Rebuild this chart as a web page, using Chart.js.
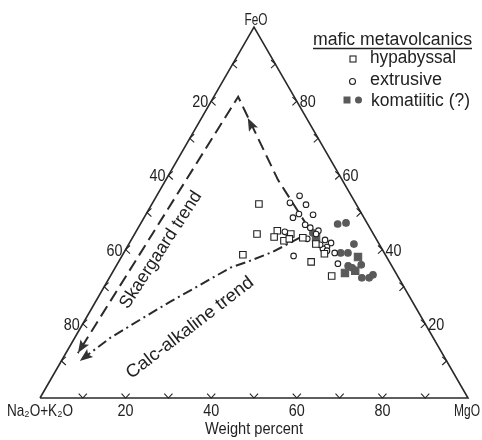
<!DOCTYPE html>
<html>
<head>
<meta charset="utf-8">
<script src="https://cdn.jsdelivr.net/npm/chart.js@4.4.1/dist/chart.umd.min.js"></script>
<style>
  html, body { margin: 0; padding: 0; background: #fff; }
</style>
</head>
<body>
<canvas id="afm" width="482" height="440"></canvas>
<script>
// AFM diagram: every sample is [FeO, MgO] in weight percent, alkalis are the rest
var hypabyssalFeO = [52.3, 44.2, 38.6, 45.1, 43.4, 42.4, 44.2, 42.9, 43.2, 41.5, 38.9, 36.7, 32.9];
var hypabyssalMgO = [25.0, 28.6, 28.1, 32.9, 33.0, 35.8, 36.5, 36.8, 39.8, 43.7, 47.0, 45.0, 51.7];

var extrusiveFeO = [54.5, 52.6, 52.1, 49.6, 48.6, 49.4, 46.7, 45.9, 45.1, 44.8, 38.3, 42.9, 42.6, 41.8, 40.7, 40.2, 39.7, 39.1, 36.2, 44.2, 41.3];
var extrusiveMgO = [33.4, 32.1, 36.1, 35.7, 34.8, 39.1, 38.6, 40.2, 42.5, 34.8, 40.1, 41.0, 45.3, 47.1, 46.7, 46.0, 47.2, 49.3, 51.5, 42.4, 44.8];

var komatiiticDotFeO = [46.9, 47.2, 41.5, 39.1, 39.1, 35.9, 35.6, 35.1, 32.4, 32.4, 33.2, 44.5];
var komatiiticDotMgO = [46.1, 47.9, 52.6, 50.7, 52.4, 57.1, 54.2, 55.4, 59.0, 60.7, 61.2, 41.5];

var komatiiticBoxFeO = [38.0, 33.7, 34.3, 43.2];
var komatiiticBoxMgO = [55.3, 54.4, 56.5, 42.9];

var skaergaardFeO = [41.8, 58.8, 81.2, 12.1];
var skaergaardMgO = [44.1, 26.2, 5.7, 2.8];
var skaergaardMidArrow = [75.5, 10.8];

var calcAlkalineFeO = [43.2, 39.4, 37.0, 35.1, 30.5, 25.9, 21.6, 16.2, 10.0];
var calcAlkalineMgO = [39.1, 34.7, 30.6, 26.9, 22.2, 17.4, 13.3, 8.3, 4.3];

var tickValues = [20, 40, 60, 80];
var vertexNames = ['FeO', 'Na\u2082O+K\u2082O', 'MgO'];
var legendTitle = 'mafic metavolcanics';
var legendNames = ['hypabyssal', 'extrusive', 'komatiitic (?)'];
var trendNames = ['Skaergaard trend', 'Calc-alkaline trend'];
var axisTitle = 'Weight percent';

var INK = '#222';
var GREY = '#5a5a5a';
var FONT = '"Liberation Sans", Arial, sans-serif';
var H = Math.sqrt(3) / 2;

var toXY = function(feo, mgo) {
    return {x: mgo + feo / 2, y: feo * H};
};

var toPoints = function(feo, mgo) {
    return feo.map(function(f, i) { return toXY(f, mgo[i]); });
};

var frame = [toXY(0, 0), toXY(0, 100), toXY(100, 0), toXY(0, 0)];

// text squeezed to the width it has in the reference lettering
var text = function(ctx, str, x, y, o) {
    ctx.save();
    ctx.font = (o.size || 17) + 'px ' + FONT;
    ctx.fillStyle = INK;
    ctx.textAlign = o.align || 'left';
    ctx.textBaseline = o.baseline || 'alphabetic';
    ctx.translate(x, y);
    if (o.rot) ctx.rotate(o.rot);
    if (o.width) {
        var w = ctx.measureText(str).width;
        ctx.scale(o.width / w, 1);
    } else if (o.squeeze) {
        ctx.scale(o.squeeze, 1);
    }
    ctx.fillText(str, 0, 0);
    ctx.restore();
};

var arrowHead = function(ctx, tip, from, len, half) {
    var a = Math.atan2(tip.y - from.y, tip.x - from.x);
    ctx.save();
    ctx.translate(tip.x, tip.y);
    ctx.rotate(a);
    ctx.beginPath();
    ctx.moveTo(0, 0);
    ctx.lineTo(-len, -half);
    ctx.lineTo(-len * 0.8, 0);
    ctx.lineTo(-len, half);
    ctx.closePath();
    ctx.fillStyle = '#333';
    ctx.fill();
    ctx.restore();
};

var ternaryDecor = {
    id: 'ternaryDecor',
    afterDatasetsDraw: function(chart) {
        var ctx = chart.ctx;
        var xs = chart.scales.x, ys = chart.scales.y;
        var px = function(p) {
            return {x: xs.getPixelForValue(p.x), y: ys.getPixelForValue(p.y)};
        };

        // chevron ticks every 10 %
        ctx.save();
        ctx.strokeStyle = INK;
        ctx.lineWidth = 1.1;
        var chevron = function(p, dir) {
            var len = 6, spread = 0.75;
            ctx.beginPath();
            ctx.moveTo(p.x + len * Math.cos(dir - spread), p.y + len * Math.sin(dir - spread));
            ctx.lineTo(p.x, p.y);
            ctx.lineTo(p.x + len * Math.cos(dir + spread), p.y + len * Math.sin(dir + spread));
            ctx.stroke();
        };
        for (var t = 10; t < 100; t += 10) {
            chevron(px(toXY(0, t)), -Math.PI / 2);
            chevron(px(toXY(t, 100 - t)), Math.PI);
            chevron(px(toXY(100 - t, 0)), 0);
        }
        ctx.restore();

        tickValues.forEach(function(v) {
            var b = px(toXY(0, v));
            text(ctx, String(v), b.x, b.y + 18, {align: 'center', width: 16});
            var r = px(toXY(v, 100 - v));
            text(ctx, String(v), r.x + 3, r.y + 6, {width: 16});
            var l = px(toXY(100 - v, 0));
            text(ctx, String(v), l.x - 3, l.y + 6, {align: 'right', width: 16});
        });

        var top = px(toXY(100, 0)), left = px(toXY(0, 0)), right = px(toXY(0, 100));
        text(ctx, vertexNames[0], top.x + 2, top.y - 2, {align: 'center', width: 23});
        text(ctx, vertexNames[1], left.x, left.y + 18, {align: 'center', width: 66});
        text(ctx, vertexNames[2], right.x - 1, right.y + 18, {align: 'center', width: 26});
        text(ctx, axisTitle, (left.x + right.x) / 2, left.y + 36, {align: 'center', size: 16, width: 98});

        // trend labels
        var sk = px(toXY(39.9, 8.3));
        text(ctx, trendNames[0], sk.x, sk.y, {align: 'center', baseline: 'middle', size: 18, rot: -57 * Math.PI / 180, width: 136});
        var ca = px(toXY(18.9, 25.6));
        text(ctx, trendNames[1], ca.x, ca.y, {align: 'center', baseline: 'middle', size: 18, rot: -37.5 * Math.PI / 180, width: 156});

        // arrow heads on the trends
        var skp = toPoints(skaergaardFeO, skaergaardMgO).map(px);
        arrowHead(ctx, skp[3], skp[2], 13, 5);
        arrowHead(ctx, px(toXY(skaergaardMidArrow[0], skaergaardMidArrow[1])), skp[1], 13, 5);
        var cap = toPoints(calcAlkalineFeO, calcAlkalineMgO).map(px);
        arrowHead(ctx, cap[cap.length - 1], cap[cap.length - 2], 13, 5);

        // legend
        text(ctx, legendTitle, 313, 45, {size: 18, width: 159});
        ctx.save();
        ctx.strokeStyle = INK;
        ctx.lineWidth = 1.3;
        ctx.beginPath();
        ctx.moveTo(313, 48.5);
        ctx.lineTo(472, 48.5);
        ctx.stroke();
        ctx.lineWidth = 1.1;
        ctx.strokeRect(350, 56, 6, 6);
        ctx.beginPath();
        ctx.arc(352.5, 81.5, 3, 0, Math.PI * 2);
        ctx.stroke();
        ctx.fillStyle = GREY;
        ctx.fillRect(343.5, 96.5, 7, 7);
        ctx.beginPath();
        ctx.arc(358.5, 100, 3.5, 0, Math.PI * 2);
        ctx.fill();
        ctx.restore();
        text(ctx, legendNames[0], 370, 63, {size: 18, width: 86});
        text(ctx, legendNames[1], 370, 85, {size: 18, width: 72});
        text(ctx, legendNames[2], 371, 106, {size: 18, width: 99});
    }
};

var lineSet = function(data, dash, width) {
    return {
        data: data,
        showLine: true,
        borderColor: '#2a2a2a',
        borderWidth: width,
        borderDash: dash,
        pointRadius: 0,
        fill: false,
        clip: false,
        order: 10
    };
};

var pointSet = function(data, style, radius, fillColor, strokeColor) {
    return {
        data: data,
        showLine: false,
        pointStyle: style,
        pointRadius: radius,
        pointBackgroundColor: fillColor,
        pointBorderColor: strokeColor,
        pointBorderWidth: 1.1,
        clip: false,
        order: 1
    };
};

new Chart(document.getElementById('afm'), {
    type: 'scatter',
    data: {
        datasets: [
            lineSet(frame, [], 1.6),
            lineSet(toPoints(skaergaardFeO, skaergaardMgO), [12, 6], 2),
            lineSet(toPoints(calcAlkalineFeO, calcAlkalineMgO), [10, 4, 2, 4], 2),
            pointSet(toPoints(hypabyssalFeO, hypabyssalMgO), 'rect', 4.6, '#fff', INK),
            pointSet(toPoints(extrusiveFeO, extrusiveMgO), 'circle', 2.8, '#fff', INK),
            pointSet(toPoints(komatiiticBoxFeO, komatiiticBoxMgO), 'rect', 5.2, GREY, GREY),
            pointSet(toPoints(komatiiticDotFeO, komatiiticDotMgO), 'circle', 3.3, GREY, GREY)
        ]
    },
    options: {
        responsive: false,
        devicePixelRatio: 1,
        animation: false,
        layout: {padding: {left: 40, right: 14, top: 27, bottom: 42}},
        scales: {
            x: {type: 'linear', min: 0, max: 100, display: false},
            y: {type: 'linear', min: 0, max: 100 * H, display: false}
        },
        plugins: {
            legend: {display: false},
            tooltip: {enabled: false}
        }
    },
    plugins: [ternaryDecor]
});
</script>
</body>
</html>
